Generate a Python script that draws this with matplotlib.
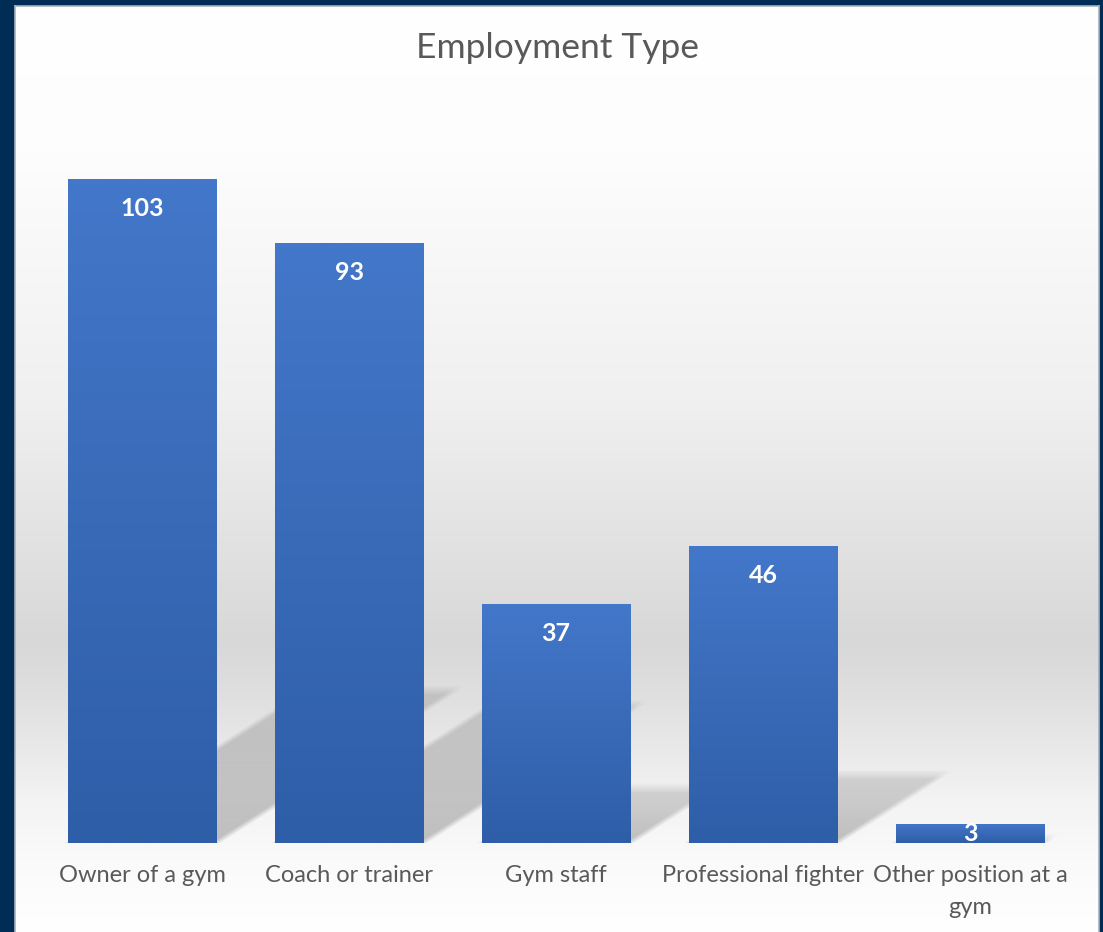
import numpy as np
import matplotlib
matplotlib.use("Agg")
import matplotlib.pyplot as plt

# data
categories = ["Owner of a gym", "Coach or trainer", "Gym staff",
              "Professional fighter", "Other position at a\ngym"]
counts = [103, 93, 37, 46, 3]

W, H = 1103, 932
navy = "#002D55"
text_grey = "#595959"
FONT = ["Lato", "DejaVu Sans"]

fig = plt.figure(figsize=(W / 100, H / 100), dpi=100, facecolor=navy)

# panel with vertical grey gradient
px0, px1, py0 = 15, 1099, 6
bg = fig.add_axes([px0 / W, 0, (px1 - px0) / W, (H - py0) / H])
stops_y = [0, 150, 400, 640, 700, 800, 860, 932]
stops_g = [255, 253, 240, 216, 224, 243, 250, 255]
yy = np.arange(py0, H)
g = np.interp(yy, stops_y, stops_g) / 255.0
bg_img = np.repeat(g[:, None, None], 3, axis=2)
bg.imshow(bg_img, aspect="auto", extent=(0, 1, 0, 1), interpolation="nearest")
bg.set_xticks([])
bg.set_yticks([])
for s in bg.spines.values():
    s.set_color("#A7B1BB")
    s.set_linewidth(1.2)
bg.spines["bottom"].set_visible(False)

# main axes: baseline at y=843 px, 207 px per category
base_px, top_val = 843, 120
px_per_unit = (843 - 179) / 103
px_per_cat = 207
top_px = base_px - top_val * px_per_unit
ax = fig.add_axes([38.5 / W, (H - base_px) / H, 1035 / W, (base_px - top_px) / H])
ax.set_facecolor("none")
ax.axis("off")

x = np.arange(len(categories))
bw = 0.715

# soft perspective shadows behind the bars
sh_top = 30
gx = np.linspace(-0.5, 4.5, 1035)
gy = np.linspace(0, sh_top, int(sh_top * px_per_unit))
GX, GY = np.meshgrid(gx, gy)
alpha = np.zeros_like(GX)
blur = 10.0
for xi, v in zip(x, counts):
    dy = 0.23 * v
    dx = 0.36 * v * px_per_unit / px_per_cat
    l, r = xi - bw / 2, xi + bw / 2
    u = GY / dy
    xl = l + dx * u
    xr = r + dx * u
    d_left = (GX - xl) * px_per_cat
    d_right = (xr - GX) * px_per_cat
    d_top = (dy - GY) * px_per_unit
    m = (np.clip(0.5 + d_left / blur, 0, 1) * np.clip(0.5 + d_right / blur, 0, 1)
         * np.clip(0.5 + d_top / blur, 0, 1))
    a = m * (0.13 + 0.10 * np.clip(1 - u, 0, 1))
    alpha = np.maximum(alpha, a)
shadow = np.zeros(GX.shape + (4,))
shadow[..., 3] = alpha
ax.imshow(shadow, extent=(-0.5, 4.5, 0, sh_top), origin="lower",
          aspect="auto", interpolation="bilinear", zorder=1)

# bars with a top-to-bottom blue gradient
bars = ax.bar(x, counts, width=bw, color="none", edgecolor="none", zorder=2)
top_c = np.array([0x43, 0x77, 0xC9]) / 255
bot_c = np.array([0x2F, 0x5E, 0xA8]) / 255
t = np.linspace(0, 1, 64)[:, None]
bar_grad = (top_c * (1 - t) + bot_c * t)[:, None, :].repeat(2, axis=1)
for b, v in zip(bars, counts):
    im = ax.imshow(bar_grad, extent=(b.get_x(), b.get_x() + b.get_width(), 0, v),
                   aspect="auto", origin="upper", interpolation="bilinear", zorder=3)
    im.set_clip_path(b)
    ly = max(v - 29 / px_per_unit, v / 2)
    ax.text(b.get_x() + b.get_width() / 2, ly, str(v),
            ha="center", va="center", color="white", fontsize=18,
            fontweight="bold", family=FONT, zorder=4)

# category labels, one text per line
for xi, lab in zip(x, categories):
    for i, line in enumerate(lab.split("\n")):
        ax.text(xi, -(875 - 843 + 33 * i) / px_per_unit, line, ha="center",
                va="center", color=text_grey, fontsize=17, family=FONT)

ax.set_xlim(-0.5, 4.5)
ax.set_ylim(0, top_val)

fig.text(557 / W, 1 - 48 / H, "Employment Type", ha="center", va="center",
         color=text_grey, fontsize=25.5, family=FONT)

fig.savefig("out.png", dpi=100, facecolor=navy)
